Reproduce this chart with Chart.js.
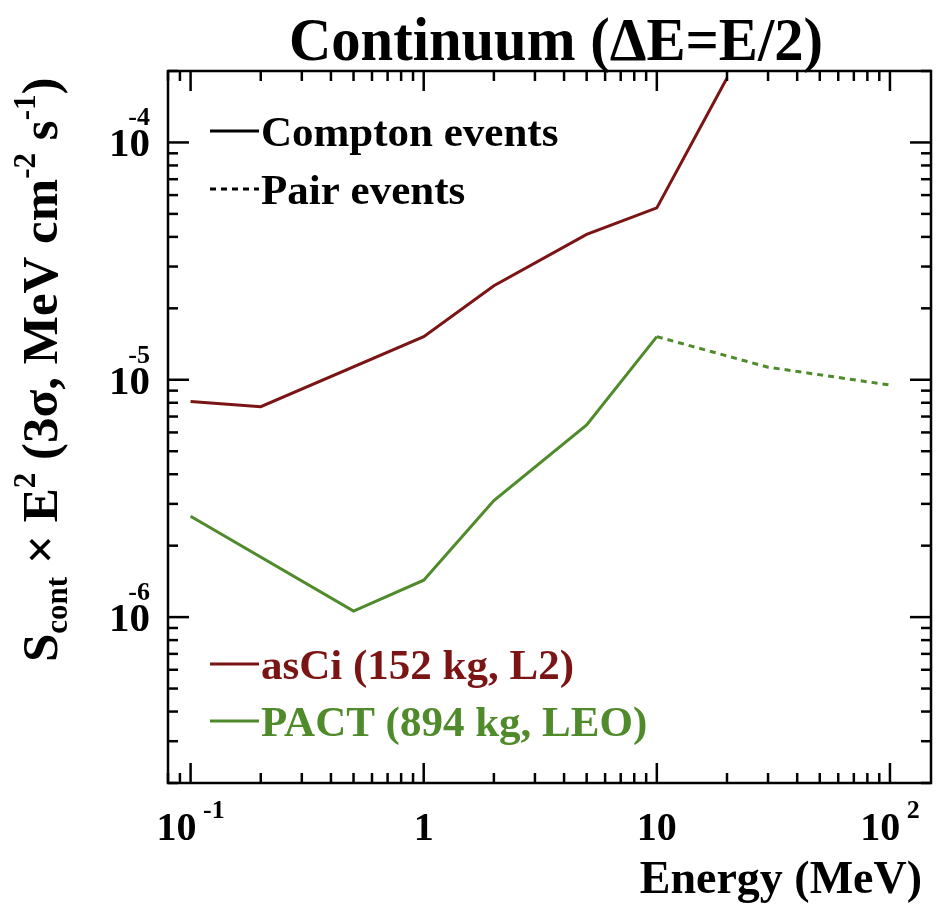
<!DOCTYPE html>
<html>
<head>
<meta charset="utf-8">
<script src="https://cdn.jsdelivr.net/npm/chart.js@4"></script>
<style>
  body { margin: 0; background: #fff; }
  canvas { display: block; }
</style>
</head>
<body>
<canvas id="chart" width="941" height="908"></canvas>
<script>
// energies in MeV, sensitivities in MeV cm^-2 s^-1
const asciEnergy = [0.1, 0.2, 1, 2, 5, 10, 20];
const asciCompton = [8.1e-6, 7.7e-6, 1.52e-5, 2.49e-5, 4.1e-5, 5.3e-5, 1.87e-4];

const pactEnergy = [0.1, 0.5, 1, 2, 5, 10];
const pactCompton = [2.66e-6, 1.06e-6, 1.43e-6, 3.1e-6, 6.45e-6, 1.52e-5];

const pactPairEnergy = [10, 30, 100];
const pactPair = [1.52e-5, 1.13e-5, 9.5e-6];

const xTicks = [0.1, 1, 10, 100];
const xTickText = [['10', '-1'], ['1', ''], ['10', ''], ['10', '2']];
const yTicks = [1e-4, 1e-5, 1e-6];
const yTickText = [['10', '-4'], ['10', '-5'], ['10', '-6']];

const RED = '#7b1414';
const GREEN = '#4f8a2b';
const FONT = '"Liberation Serif", "Times New Roman", serif';

const toPoints = (xs, ys) => xs.map((v, i) => ({ x: v, y: ys[i] }));

function font(size) { return 'bold ' + size + 'px ' + FONT; }

// draws a run of text pieces (normal / sub / superscript) from left to right
function drawRich(ctx, parts, x, y) {
    let cx = x;
    parts.forEach(p => {
        ctx.font = font(p.size);
        ctx.fillText(p.t, cx, y + (p.dy || 0));
        cx += ctx.measureText(p.t).width;
    });
    return cx;
}

function richWidth(ctx, parts) {
    let w = 0;
    parts.forEach(p => { ctx.font = font(p.size); w += ctx.measureText(p.t).width; });
    return w;
}

const legendTop = [
    { text: 'Compton events', color: '#000', line: '#000', dash: [], y: 146 },
    { text: 'Pair events', color: '#000', line: '#000', dash: [6, 5], y: 204 }
];
const legendBottom = [
    { text: 'asCi (152 kg, L2)', color: RED, line: RED, dash: [], y: 679 },
    { text: 'PACT (894 kg, LEO)', color: GREEN, line: GREEN, dash: [], y: 736 }
];

const framePlugin = {
    id: 'frame',
    afterDatasetsDraw(chart) {
        const { ctx, chartArea: a, scales: { x, y } } = chart;
        ctx.save();
        ctx.strokeStyle = '#000';
        ctx.fillStyle = '#000';
        ctx.lineWidth = 2.5;
        ctx.strokeRect(a.left, a.top, a.right - a.left, a.bottom - a.top);

        const seg = (x1, y1, x2, y2) => {
            ctx.beginPath(); ctx.moveTo(x1, y1); ctx.lineTo(x2, y2); ctx.stroke();
        };

        // inward ticks on all four sides
        for (let d = -2; d <= 2; d++) {
            for (let m = 1; m <= 9; m++) {
                const v = m * Math.pow(10, d);
                if (v < x.min || v > x.max) continue;
                const px = x.getPixelForValue(v);
                const len = m === 1 ? 20 : 10;
                seg(px, a.bottom, px, a.bottom - len);
                seg(px, a.top, px, a.top + len);
            }
        }
        for (let d = -7; d <= -3; d++) {
            for (let m = 1; m <= 9; m++) {
                const v = m * Math.pow(10, d);
                if (v < y.min || v > y.max) continue;
                const py = y.getPixelForValue(v);
                const len = m === 1 ? 21 : 10;
                seg(a.left, py, a.left + len, py);
                seg(a.right, py, a.right - len, py);
            }
        }

        // x tick labels
        ctx.textBaseline = 'alphabetic';
        ctx.textAlign = 'left';
        xTicks.forEach((v, i) => {
            const parts = [{ t: xTickText[i][0], size: 40 }];
            if (xTickText[i][1]) parts.push({ t: ' ' + xTickText[i][1], size: 26, dy: -22 });
            const w = richWidth(ctx, parts);
            drawRich(ctx, parts, x.getPixelForValue(v) - w / 2, a.bottom + 57);
        });

        // y tick labels
        yTicks.forEach((v, i) => {
            const py = y.getPixelForValue(v);
            ctx.textAlign = 'right';
            ctx.font = font(41);
            ctx.fillText(yTickText[i][0], 150, py + 14);
            ctx.font = font(26);
            ctx.fillText(yTickText[i][1], 150, py - 17);
        });

        // title, slightly condensed
        ctx.save();
        ctx.translate(556, 60);
        ctx.scale(0.945, 1);
        ctx.textAlign = 'center';
        ctx.font = font(62);
        ctx.fillText('Continuum (\u0394E=E/2)', 0, 0);
        ctx.restore();

        // x axis title
        ctx.textAlign = 'right';
        ctx.font = font(46);
        ctx.fillText('Energy (MeV)', 922, 893);

        // y axis title, rotated
        ctx.save();
        ctx.translate(57, 662);
        ctx.rotate(-Math.PI / 2);
        ctx.textAlign = 'left';
        drawRich(ctx, [
            { t: 'S', size: 51 },
            { t: 'cont', size: 31, dy: 10 },
            { t: ' \u00d7 E', size: 51 },
            { t: '2', size: 31, dy: -22 },
            { t: ' (3\u03c3, MeV cm', size: 51 },
            { t: '-2', size: 31, dy: -22 },
            { t: ' s', size: 51 },
            { t: '-1', size: 31, dy: -22 },
            { t: ')', size: 51 }
        ], 0, 0);
        ctx.restore();

        // legends
        ctx.textAlign = 'left';
        legendTop.concat(legendBottom).forEach(item => {
            ctx.strokeStyle = item.line;
            ctx.lineWidth = 3;
            ctx.setLineDash(item.dash);
            seg(210, item.y - 15, 259, item.y - 15);
            ctx.setLineDash([]);
            ctx.fillStyle = item.color;
            ctx.font = font(43);
            ctx.fillText(item.text, 261, item.y);
        });
        ctx.restore();
    }
};

new Chart(document.getElementById('chart'), {
    type: 'line',
    data: {
        datasets: [{
            label: 'asCi (152 kg, L2)',
            data: toPoints(asciEnergy, asciCompton),
            borderColor: RED,
            borderWidth: 3,
            pointRadius: 0
        }, {
            label: 'PACT (894 kg, LEO)',
            data: toPoints(pactEnergy, pactCompton),
            borderColor: GREEN,
            borderWidth: 3,
            pointRadius: 0
        }, {
            label: 'PACT pair',
            data: toPoints(pactPairEnergy, pactPair),
            borderColor: GREEN,
            borderWidth: 3,
            borderDash: [6, 5],
            pointRadius: 0
        }]
    },
    options: {
        responsive: false,
        animation: false,
        devicePixelRatio: 1,
        layout: { padding: { left: 168, right: 10, top: 71, bottom: 125 } },
        scales: {
            x: { type: 'logarithmic', min: 0.08, max: 150, display: false },
            y: { type: 'logarithmic', min: 2e-7, max: 2e-4, display: false }
        },
        plugins: {
            legend: { display: false },
            tooltip: { enabled: false }
        }
    },
    plugins: [framePlugin]
});
</script>
</body>
</html>
